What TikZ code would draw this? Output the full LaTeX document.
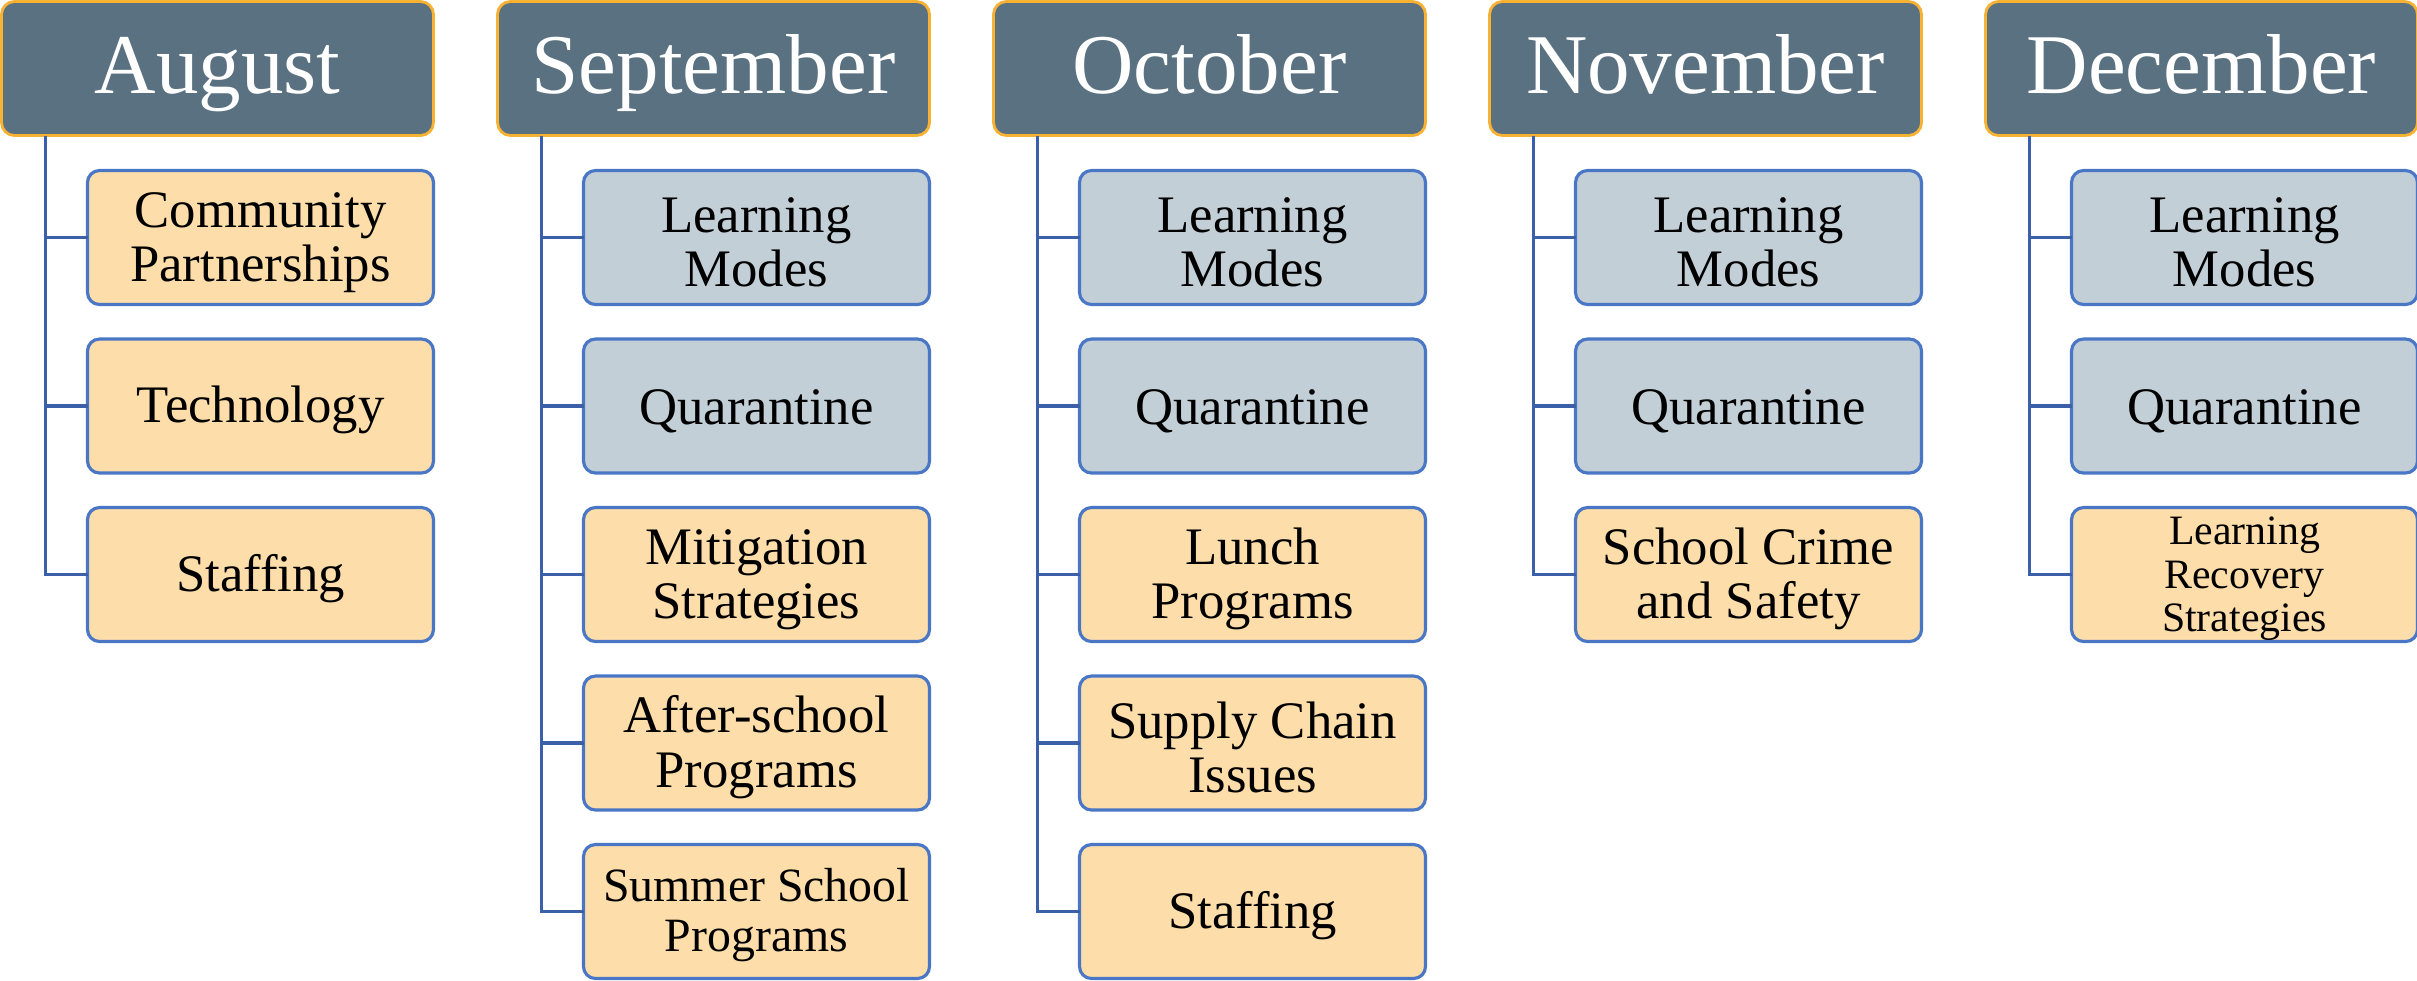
\documentclass[tikz,border=0pt]{standalone}
\usepackage{fontspec}
\setmainfont{Liberation Serif}
\usetikzlibrary{positioning}

\definecolor{monthFill}{HTML}{5A7181}
\definecolor{monthLine}{HTML}{F7B133}
\definecolor{topicOrange}{HTML}{FDDDA9}
\definecolor{topicGray}{HTML}{C3CFD7}
\definecolor{topicLine}{HTML}{4A76C6}
\definecolor{linkColor}{HTML}{3C5FA9}

\begin{document}
\begin{tikzpicture}[%
    month/.style={%
        draw=monthLine,
        fill=monthFill,
        text=white,
        line width=0.8pt,
        rounded corners=0.13cm,
        inner sep=0pt,
        outer sep=0pt,
        minimum width=4.32cm,
        minimum height=1.34cm,
        text height=19pt,
        text depth=5pt,
        font=\fontsize{24.2}{28}\selectfont
    },
    topic/.style={%
        draw=topicLine,
        fill=topicOrange,
        line width=0.9pt,
        rounded corners=0.12cm,
        inner sep=0pt,
        outer sep=0pt,
        align=center,
        minimum width=3.46cm,
        minimum height=1.34cm,
        node distance=0.345cm,
        text height=28.3pt,
        font=\fontsize{15}{15.5}\selectfont
    },
    recurring/.style={%
        topic,
        fill=topicGray
    },
    single/.style={%
        text height=12.8pt
    },
    link/.style={%
        draw=linkColor,
        line width=0.9pt
    }
]

\useasboundingbox (0,0) rectangle (24.17,-9.80);

% Months
\node[month, anchor=north west] (aug) at (0.015,-0.015) {August};
\node[month, right=0.64cm of aug] (sep) {September};
\node[month, right=0.64cm of sep] (oct) {October};
\node[month, right=0.64cm of oct] (nov) {November};
\node[month, right=0.64cm of nov] (dec) {December};

% August
\node[topic, below=0.35cm of aug.south east, anchor=north east] (aug1) {Community\\Partnerships};
\node[topic, single, below=of aug1] (aug2) {Technology};
\node[topic, single, below=of aug2] (aug3) {Staffing};

% September
\node[recurring, below=0.35cm of sep.south east, anchor=north east] (sep1) {Learning\\Modes};
\node[recurring, single, below=of sep1] (sep2) {Quarantine};
\node[topic, below=of sep2] (sep3) {Mitigation\\Strategies};
\node[topic, below=of sep3] (sep4) {After-school\\Programs};
\node[topic, below=of sep4, text height=25.9pt, font=\fontsize{13.6}{14.2}\selectfont] (sep5) {Summer School\\Programs};

% October
\node[recurring, below=0.35cm of oct.south east, anchor=north east] (oct1) {Learning\\Modes};
\node[recurring, single, below=of oct1] (oct2) {Quarantine};
\node[topic, below=of oct2] (oct3) {Lunch\\Programs};
\node[topic, below=of oct3] (oct4) {Supply Chain\\Issues};
\node[topic, single, below=of oct4] (oct5) {Staffing};

% November
\node[recurring, below=0.35cm of nov.south east, anchor=north east] (nov1) {Learning\\Modes};
\node[recurring, single, below=of nov1] (nov2) {Quarantine};
\node[topic, below=of nov2] (nov3) {School Crime\\and Safety};

% December
\node[recurring, below=0.35cm of dec.south east, anchor=north east] (dec1) {Learning\\Modes};
\node[recurring, single, below=of dec1] (dec2) {Quarantine};
\node[topic, below=of dec2, text height=35.2pt, font=\fontsize{11.9}{12.4}\selectfont] (dec3) {Learning\\Recovery\\Strategies};

% Trunks
\coordinate (augTrunk) at ([xshift=0.44cm]aug.south west);
\coordinate (sepTrunk) at ([xshift=0.44cm]sep.south west);
\coordinate (octTrunk) at ([xshift=0.44cm]oct.south west);
\coordinate (novTrunk) at ([xshift=0.44cm]nov.south west);
\coordinate (decTrunk) at ([xshift=0.44cm]dec.south west);

% Links
\draw[link] (augTrunk) |- (aug3.west);
\draw[link] (augTrunk |- aug1.west) -- (aug1.west);
\draw[link] (augTrunk |- aug2.west) -- (aug2.west);

\draw[link] (sepTrunk) |- (sep5.west);
\draw[link] (sepTrunk |- sep1.west) -- (sep1.west);
\draw[link] (sepTrunk |- sep2.west) -- (sep2.west);
\draw[link] (sepTrunk |- sep3.west) -- (sep3.west);
\draw[link] (sepTrunk |- sep4.west) -- (sep4.west);

\draw[link] (octTrunk) |- (oct5.west);
\draw[link] (octTrunk |- oct1.west) -- (oct1.west);
\draw[link] (octTrunk |- oct2.west) -- (oct2.west);
\draw[link] (octTrunk |- oct3.west) -- (oct3.west);
\draw[link] (octTrunk |- oct4.west) -- (oct4.west);

\draw[link] (novTrunk) |- (nov3.west);
\draw[link] (novTrunk |- nov1.west) -- (nov1.west);
\draw[link] (novTrunk |- nov2.west) -- (nov2.west);

\draw[link] (decTrunk) |- (dec3.west);
\draw[link] (decTrunk |- dec1.west) -- (dec1.west);
\draw[link] (decTrunk |- dec2.west) -- (dec2.west);

\end{tikzpicture}
\end{document}
